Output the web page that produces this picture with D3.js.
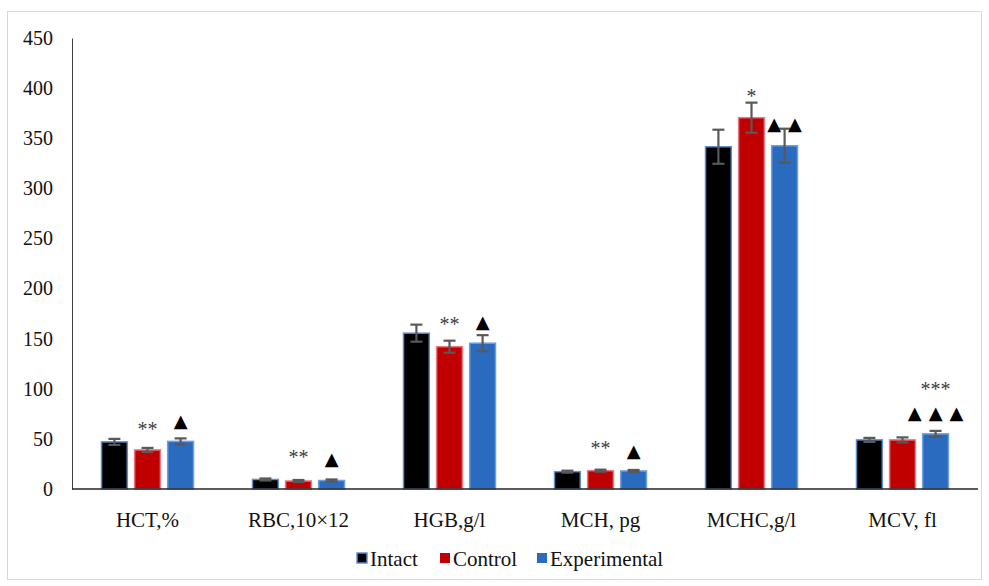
<!DOCTYPE html>
<html>
<head>
<meta charset="utf-8">
<script src="https://cdn.jsdelivr.net/npm/d3@7"></script>
<style>
  html, body { margin: 0; padding: 0; background: #fff; }
  svg { display: block; }
  svg text { font-family: "Liberation Serif", "Times New Roman", serif; }
  svg text.tri { font-family: "DejaVu Sans", sans-serif; }
</style>
</head>
<body>
<svg id="chart" width="989" height="586"></svg>
<script>
// Haematological indices by group
const categories = ["HCT,%", "RBC,10×12", "HGB,g/l", "MCH, pg", "MCHC,g/l", "MCV, fl"];
const seriesNames = ["Intact", "Control", "Experimental"];
const intact       = [47, 9.5, 155.5, 17.3, 341.5, 49];
const control      = [39, 8,   142,   18.3, 370.5, 49];
const experimental = [47.5, 8.5, 145.5, 18, 342.5, 55];
const intactErr       = [3, 1, 8.5, 1, 17, 2];
const controlErr      = [2, 1, 6,   1, 15, 2.5];
const experimentalErr = [3, 1, 8,   1, 17, 3];
// significance marks: [category index, series index, text]
const marks = [
  [0, 1, "**"], [0, 2, "▲"],
  [1, 1, "**"], [1, 2, "▲"],
  [2, 1, "**"], [2, 2, "▲"],
  [3, 1, "**"], [3, 2, "▲"],
  [4, 1, "*"],  [4, 2, "▲▲"],
  [5, 2, "***"], [5, 2, "▲▲▲"]
];
const yTicks = [0, 50, 100, 150, 200, 250, 300, 350, 400, 450];

// layout: vertical gap (px) between each mark's baseline and the top of its error bar
const markGap = [12, 11.5, 16, 14.5, 10, 7, 15, 13, 0, -1.5, 35, 12];

const colors = ["#000000", "#c00000", "#2a6bbf"];
const strokes = ["#5f8fcf", "#e47a86", "#6f9fdc"];

const svg = d3.select("#chart");

// outer frame
svg.append("rect").attr("x", 7.5).attr("y", 11.5).attr("width", 974).attr("height", 568)
  .attr("fill", "#fff").attr("stroke", "#d9d9d9").attr("stroke-width", 1);

const plotLeft = 72, plotRight = 978, plotTop = 38, plotBottom = 489;

const y = d3.scaleLinear().domain([0, 450]).range([plotBottom, plotTop]);
const x = d3.scaleBand().domain(categories).range([plotLeft, plotRight]).paddingInner(0).paddingOuter(0);
const x1 = d3.scaleBand().domain(seriesNames).range([-46, 46]).paddingInner(0.22).paddingOuter(0);

const values = [intact, control, experimental];
const errs = [intactErr, controlErr, experimentalErr];

// y axis
const yAxis = d3.axisLeft(y).tickValues(yTicks).tickSize(0).tickPadding(19);
const gy = svg.append("g").attr("transform", `translate(${plotLeft},0)`).call(yAxis);
gy.attr("font-family", null).attr("font-size", null);
gy.select(".domain").attr("stroke", "#404040").attr("stroke-width", 1);
gy.selectAll("text").style("font-size", "20px").attr("fill", "#111");

// bars
const groups = svg.append("g").selectAll("g").data(categories).join("g")
  .attr("transform", d => `translate(${x(d) + x.bandwidth() / 2},0)`);

seriesNames.forEach((s, si) => {
  groups.append("rect")
    .attr("x", x1(s))
    .attr("width", x1.bandwidth())
    .attr("y", (d, i) => y(values[si][i]))
    .attr("height", (d, i) => plotBottom - y(values[si][i]))
    .attr("fill", colors[si])
    .attr("stroke", strokes[si])
    .attr("stroke-width", 1.5);
});

// error bars
seriesNames.forEach((s, si) => {
  const cx = x1(s) + x1.bandwidth() / 2;
  groups.each(function (d, i) {
    const g = d3.select(this);
    const v = values[si][i], e = errs[si][i];
    const eb = g.append("g").attr("stroke", "#595959").attr("stroke-width", 2.2);
    eb.append("line").attr("x1", cx).attr("x2", cx).attr("y1", y(v + e)).attr("y2", y(v - e));
    eb.append("line").attr("x1", cx - 6).attr("x2", cx + 6).attr("y1", y(v + e)).attr("y2", y(v + e));
    eb.append("line").attr("x1", cx - 6).attr("x2", cx + 6).attr("y1", y(v - e)).attr("y2", y(v - e));
  });
});

// baseline
svg.append("line").attr("x1", plotLeft).attr("x2", plotRight).attr("y1", plotBottom).attr("y2", plotBottom)
  .attr("stroke", "#262626").attr("stroke-width", 1.5);

// significance marks
marks.forEach(([ci, si, txt], mi) => {
  const cx = x(categories[ci]) + x.bandwidth() / 2 + x1(seriesNames[si]) + x1.bandwidth() / 2;
  const v = values[si][ci], e = errs[si][ci];
  const isTri = txt.includes("▲");
  const t = svg.append("text")
    .attr("class", isTri ? "tri" : "sig")
    .attr("x", cx).attr("y", y(v + e) - markGap[mi])
    .attr("text-anchor", "middle")
    .style("font-size", isTri ? "18px" : "20px")
    .attr("fill", isTri ? "#000" : "#404040")
    .text(txt);
  if (isTri && txt.length > 1) t.attr("letter-spacing", 7).attr("dx", 3.5);
  else if (!isTri) t.attr("letter-spacing", 0);
});

// x labels
svg.append("g").selectAll("text").data(categories).join("text")
  .attr("x", d => x(d) + x.bandwidth() / 2)
  .attr("y", 527)
  .attr("text-anchor", "middle")
  .style("font-size", "21px")
  .attr("fill", "#111")
  .text(d => d);

// legend
const legendX = [357, 440, 537];
const lg = svg.append("g");
seriesNames.forEach((s, si) => {
  lg.append("rect").attr("x", legendX[si]).attr("y", 553).attr("width", 10).attr("height", 10)
    .attr("fill", colors[si]).attr("stroke", si === 0 ? strokes[0] : "none").attr("stroke-width", 1.5);
  lg.append("text").attr("x", legendX[si] + 13).attr("y", 566)
    .style("font-size", "21px").attr("fill", "#111").text(s);
});
</script>
</body>
</html>
